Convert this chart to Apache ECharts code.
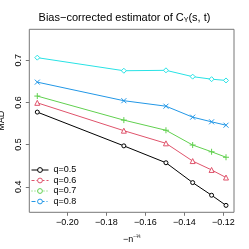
<!DOCTYPE html>
<html><head><meta charset="utf-8">
<script src="https://cdn.jsdelivr.net/npm/echarts@6/dist/echarts.min.js"></script>
<style>html,body{margin:0;padding:0;background:#fff}#c{width:249px;height:249px}</style>
</head><body><div id="c"></div>
<script>
// x values: -n^(-1/3) for n = 100..600
const xVals = [-0.2154, -0.1710, -0.1494, -0.1357, -0.1260, -0.1186];
const q05 = [0.577, 0.497, 0.457, 0.410, 0.380, 0.356];
const q06 = [0.599, 0.533, 0.503, 0.461, 0.440, 0.422];
const q07 = [0.615, 0.558, 0.534, 0.499, 0.483, 0.470];
const q08 = [0.648, 0.604, 0.591, 0.565, 0.554, 0.546];
const q09 = [0.706, 0.675, 0.676, 0.661, 0.655, 0.652];
const xTicks = [-0.20, -0.18, -0.16, -0.14, -0.12];
const yTicks = [0.4, 0.5, 0.6, 0.7];
const legendNames = ['q=0.5', 'q=0.6', 'q=0.7', 'q=0.8'];

const pairs = ys => xVals.map((x, i) => [x, ys[i]]);
const FONT = 'Liberation Sans';
const fmtX = v => (v < 0 ? '\u2212' : '') + Math.abs(v).toFixed(2);

function mk(name, data, color, symbol, size) {
  return {
    name: name, type: 'line', data: pairs(data), color: color,
    symbol: symbol, symbolSize: size, showSymbol: true,
    lineStyle: { color: color, width: 1 },
    itemStyle: { color: '#fff', borderColor: color, borderWidth: 1 },
    emphasis: { disabled: true }, animation: false, z: 3
  };
}
function legendSeries(name, color, dash) {
  return {
    name: name, type: 'line', data: [], color: color,
    symbol: 'circle', symbolSize: 4,
    lineStyle: { color: color, width: 1, type: dash },
    itemStyle: { color: '#fff', borderColor: color, borderWidth: 1 },
    emphasis: { disabled: true }, animation: false
  };
}

const chart = echarts.init(document.getElementById('c'), null, { renderer: 'canvas' });
chart.setOption({
  animation: false,
  title: {
    text: 'Bias\u2212corrected estimator of C{s|Y}(s, t)',
    left: 'center', top: 6,
    textStyle: { fontFamily: FONT, fontSize: 11, fontWeight: 'normal', color: '#000',
      rich: { s: { fontFamily: FONT, fontSize: 7, verticalAlign: 'bottom', padding: [6, 0, 0, 0], color: '#000' } } }
  },
  grid: { left: 29.3, right: 15, top: 29.3, bottom: 36.7, show: true, borderColor: '#777', borderWidth: 1,
          containLabel: false, outerBoundsMode: 'none' },
  legend: {
    orient: 'vertical', left: 31, top: 165.5, padding: 0,
    itemWidth: 17, itemHeight: 6, itemGap: 1.5,
    itemStyle: { color: '#fff', borderWidth: 1 },
    lineStyle: { width: 1 },
    textStyle: { fontFamily: FONT, fontSize: 9, color: '#000' },
    data: legendNames
  },
  xAxis: {
    type: 'value', min: -0.2195, max: -0.1145,
    axisLine: { show: false },
    splitLine: { show: false },
    axisTick: { show: true, length: 3.5, customValues: xTicks, lineStyle: { color: '#777' } },
    axisLabel: { customValues: xTicks, formatter: fmtX, fontFamily: FONT, fontSize: 9, color: '#000', margin: 6 },
    name: '{a|\u2212n}{b|\u2212\u2153}', nameLocation: 'middle', nameGap: 22,
    nameTextStyle: { fontFamily: FONT, fontSize: 9, color: '#000',
      rich: { a: { fontFamily: FONT, fontSize: 9, color: '#000' }, b: { fontFamily: FONT, fontSize: 5, color: '#000', padding: [0, 0, 6, 0] } } }
  },
  yAxis: {
    type: 'value', min: 0.3396, max: 0.7732,
    axisLine: { show: false },
    splitLine: { show: false },
    axisTick: { show: true, length: 3.5, customValues: yTicks, lineStyle: { color: '#777' } },
    axisLabel: { customValues: yTicks, formatter: v => v.toFixed(1), rotate: 90, fontFamily: FONT, fontSize: 9, color: '#000', margin: 6 },
    name: 'MAD', nameLocation: 'middle', nameGap: 23, nameRotate: 90,
    nameTextStyle: { fontFamily: FONT, fontSize: 9, color: '#000' }
  },
  series: [
    mk('s05', q05, '#000000', 'circle', 4),
    mk('s06', q06, '#DF536B', 'triangle', 5),
    mk('s07', q07, '#61D04F', 'path://M0,5L10,5M5,0L5,10', 6),
    mk('s08', q08, '#2297E6', 'path://M0,0L10,10M0,10L10,0', 5),
    mk('s09', q09, '#28E2E5', 'diamond', 5),
    legendSeries(legendNames[0], '#000000', 'solid'),
    legendSeries(legendNames[1], '#DF536B', [3, 2]),
    legendSeries(legendNames[2], '#61D04F', [1, 2]),
    legendSeries(legendNames[3], '#2297E6', [4, 2, 1, 2])
  ]
});
</script></body></html>
